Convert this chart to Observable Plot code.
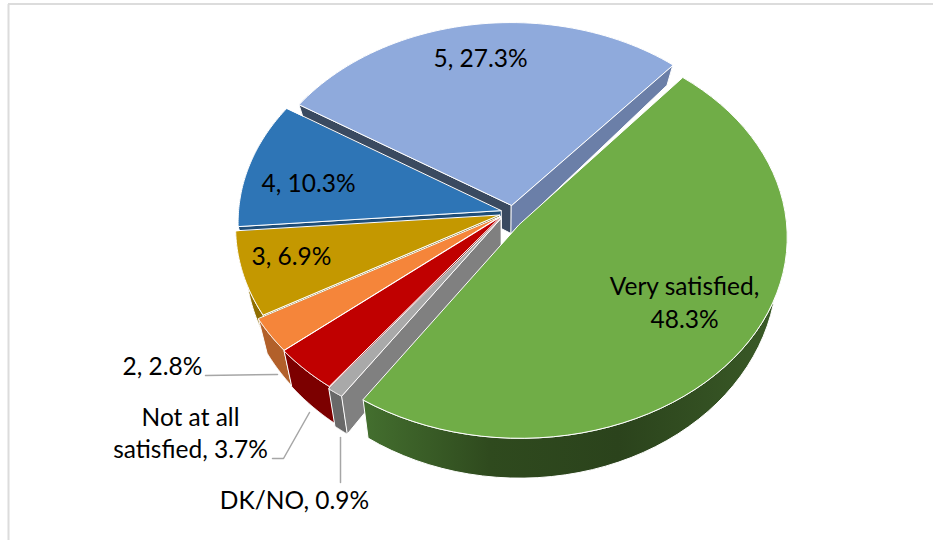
<!DOCTYPE html>
<html><head><meta charset="utf-8">
<script src="https://cdn.jsdelivr.net/npm/d3@7"></script>
<script src="https://cdn.jsdelivr.net/npm/@observablehq/plot@0.6"></script>
<style>html,body{margin:0;padding:0;background:#fff;overflow:hidden}svg{display:block}</style>
</head><body><div id="chart"></div>
<script>
const categories = ["Very satisfied","DK/NO","Not at all satisfied","2","3","4","5"];
const shares = [48.3,0.9,3.7,2.8,6.9,10.3,27.3];
const topColors = ["#70AD47","#A9A9A9","#C00000","#F5853A","#C49800","#2E75B6","#8FAADC"];
const wallColors = ["url(#greenWall)","#696969","#7C0000","#B2602A","#8F6E00","#1F4E79","#6B7FA8"];
const startCutColors = ["#3E6A2A","#808080","#7C0000","#B2602A","#7A6A20","#1F4E79","#3A4A60"];
const endCutColors = ["#3E6A2A","#808080","#7C0000","#B2602A","#8F6E00","#1F4E79","#6B7FA8"];
// exploded offset and radius of each slice in the pie plane (fractions of the radius)
const offU = [0.06,-0.01,-0.012,-0.012,-0.016,-0.01,0.03];
const offV = [0.025,-0.005,-0.012,-0.015,-0.022,-0.045,-0.072];
const radii = [1.015,1.03,1.025,1.025,1.002,1,0.99];
const labelLines = [["Very satisfied,","48.3%"],["DK/NO, 0.9%"],["Not at all","satisfied, 3.7%"],["2, 2.8%"],["3, 6.9%"],["4, 10.3%"],["5, 27.3%"]];
const labelX = [684,294,190,162,291,308,480];
const labelY = [287,501,418,367,257,184,59];

const view = {cx:503,cy:219,S:263,st:0.75,ct:0.66,d:11,H:29,a:0.36,shrink:0.035,rot:40};
const rad = Math.PI/180;
function project(theta, r, off, z){
  const u = Math.sin(theta*rad)*r + off[0], v = -Math.cos(theta*rad)*r + off[1];
  const k = view.d/(view.d - v*view.ct);
  return [view.cx + view.S*u*k*(1 - view.shrink*z),
          view.cy + view.S*v*view.st*k + z*view.H*(1 + view.a*v)];
}
const area = p => d3.polygonArea(p);
const polys = [];
const add = (pts, fill) => polys.push({pts, fill});
let cum = view.rot;
const geom = shares.map((s,i)=>{
  const a0 = cum, a1 = cum + s*3.6; cum = a1;
  return {a0,a1,off:[offU[i],offV[i]],i};
});
for (const g of [6,5,4,3,2,1,0].map(i=>geom[i])) {
  const {a0,a1,off,i} = g;
  const arc = d3.range(0,61).map(t=>a0+(a1-a0)*t/60);
  const P = (th,z)=>project(th,radii[i],off,z), A = z=>project(0,0,off,z);
  const wall = [...arc.map(t=>P(t,0)), ...arc.slice().reverse().map(t=>P(t,1))];
  const cutS = [A(0),P(a0,0),P(a0,1),A(1)];
  const cutE = [A(0),P(a1,0),P(a1,1),A(1)];
  add(wall, wallColors[i]);
  if (area(cutS) > 0) add(cutS, startCutColors[i]);
  if (area(cutE) < 0) add(cutE, endCutColors[i]);
  add([A(0),...arc.map(t=>P(t,0))], topColors[i]);
}
const leaders = [
  [[205,375],[277,374]],
  [[272,458],[283,458],[309,412]],
  [[340,437],[340,482]]
];
const marks = [
  () => { const d = d3.create("svg:defs");
    const lg = d.append("linearGradient").attr("id","greenWall").attr("gradientUnits","userSpaceOnUse")
      .attr("x1",360).attr("y1",0).attr("x2",790).attr("y2",0);
    [[0,"#44702F"],[0.3,"#2F4A1E"],[0.6,"#2B431C"],[1,"#3B5C28"]].forEach(([o,c])=>lg.append("stop").attr("offset",o).attr("stop-color",c));
    return d.node(); },
  Plot.ruleX([8],{y1:4,y2:540,stroke:"#dcdcdc",strokeWidth:2}),
  Plot.ruleY([3.5],{x1:8,x2:933,stroke:"#dcdcdc",strokeWidth:2}),
  ...polys.map(p=>Plot.line(p.pts,{x:d=>d[0],y:d=>d[1],curve:"linear-closed",fill:p.fill,stroke:"#fff",strokeWidth:1,strokeLinejoin:"round"})),
  ...leaders.map(l=>Plot.line(l,{x:d=>d[0],y:d=>d[1],stroke:"#a6a6a6",strokeWidth:1.5})),
];
const labelRows = labelLines.flatMap((lines,i)=>lines.map((t,j)=>({t,x:labelX[i],y:labelY[i]+j*(i===0?33:32)})));
marks.push(Plot.text(labelRows,{x:"x",y:"y",text:"t",fontFamily:"Lato, 'Open Sans', sans-serif",fontSize:24.5,fill:"#000",lineAnchor:"middle"}));
document.getElementById("chart").append(Plot.plot({
  width:933,height:540,margin:0,
  x:{domain:[0,933],range:[0,933],axis:null},
  y:{domain:[0,540],range:[0,540],axis:null},
  marks
}));
</script></body></html>
